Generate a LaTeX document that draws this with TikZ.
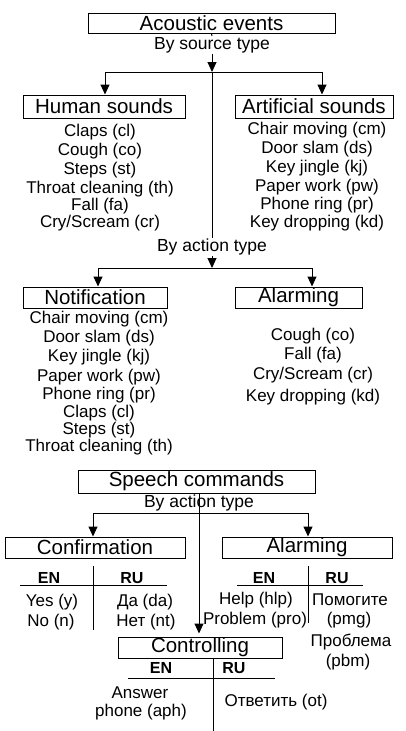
\documentclass[tikz,border=0pt]{standalone}
\usepackage{fontspec}
\setmainfont{Liberation Sans}
\usetikzlibrary{arrows.meta}

\tikzset{
  box/.style={draw, line width=1pt, inner sep=0pt, font=\fontsize{20.5}{24}\selectfont},
  lbl/.style={inner sep=1pt, font=\fontsize{17.5}{20}\selectfont},
  item/.style={inner sep=0pt, font=\fontsize{17}{20}\selectfont},
  head/.style={inner sep=0pt, font=\bfseries\fontsize{16}{19}\selectfont},
  arr/.style={-{Triangle[width=9pt,length=10pt]}, line width=1pt},
  rule/.style={line width=1pt},
}

\begin{document}
\begin{tikzpicture}[x=1pt,y=-1pt]
\useasboundingbox (0,0) rectangle (406,731);

\node[box, minimum width=247, minimum height=20] (acoustic) at (211.5,23) {Acoustic events};
\node[lbl] (bysource) at (212,45) {By source type};
\coordinate (split1) at (212,72);
\node[box, minimum width=162, minimum height=23] (hum) at (104,106.5) {Human sounds};
\node[box, minimum width=158, minimum height=23] (art) at (314,106.5) {Artificial sounds};

\draw[rule] (acoustic.south) -- (bysource.north);
\draw[arr] (bysource.south) -- (split1);
\draw[arr] (split1) -| ([xshift=1pt]hum.north);
\draw[arr] (split1) -| ([xshift=8pt]art.north);

\foreach \y/\t [count=\i] in {132/Claps (cl), 151/Cough (co), 170/Steps (st),
    189/Throat cleaning (th), 206/Fall (fa), 223/{Cry/Scream (cr)}}
  \node[item] (hs\i) at (100,\y) {\t};
\foreach \y/\t [count=\i] in {130/Chair moving (cm), 149/Door slam (ds), 168/Key jingle (kj),
    187/Paper work (pw), 205/Phone ring (pr), 223/Key dropping (kd)}
  \node[item] (as\i) at (317,\y) {\t};

\node[lbl] (byaction) at (212,247) {By action type};
\coordinate (split2) at (212,268);
\node[box, minimum width=144, minimum height=21] (notif) at (95,297.5) {Notification};
\node[box, minimum width=127, minimum height=21] (alarm) at (298.5,297.5) {Alarming};

\draw[rule] (split1) -- (byaction.north);
\draw[arr] (byaction.south) -- (split2);
\draw[arr] (split2) -| ([xshift=3pt]notif.north);
\draw[arr] (split2) -| ([xshift=13.5pt]alarm.north);

\foreach \y/\t [count=\i] in {319/Chair moving (cm), 338/Door slam (ds), 357/Key jingle (kj),
    377/Paper work (pw), 395/Phone ring (pr), 413/Claps (cl), 430/Steps (st),
    447/Throat cleaning (th)}
  \node[item] (nt\i) at (99,\y) {\t};
\foreach \y/\t [count=\i] in {336/Cough (co), 355/Fall (fa), 375/{Cry/Scream (cr)},
    397/Key dropping (kd)}
  \node[item] (al\i) at (313,\y) {\t};

\node[box, minimum width=237, minimum height=23] (speech) at (196.5,481.5) {Speech commands};
\node[lbl] (byaction2) at (199,503) {By action type};
\coordinate (split3) at (199,513);
\node[box, minimum width=180, minimum height=21] (conf) at (95,547.5) {Confirmation};
\node[box, minimum width=170, minimum height=21] (alarm2) at (307,547.5) {Alarming};
\node[box, minimum width=164, minimum height=21] (ctrl) at (200,647.5) {Controlling};

\draw[arr, shorten >=3pt] (speech.south -| split3) -- (ctrl.north -| split3);
\draw[arr] (split3) -| ([xshift=-2pt]conf.north);
\draw[arr] (split3) -| ([xshift=1pt]alarm2.north);

\node[head] (cen) at (49,578) {EN};
\node[head] (cru) at (132,578) {RU};
\draw[rule] (20,585) -- (167,585);
\draw[rule] (93,566) -- (93,630);
\node[item] (cy) at (52,602) {Yes (y)};
\node[item] (cn) at (51,622) {No (n)};
\node[item] (cda) at (145,602) {Да (da)};
\node[item] (cnt) at (146,622) {Нет (nt)};

\node[head] (aen) at (264,578) {EN};
\node[head] (aru) at (337,578) {RU};
\draw[rule] (237,585) -- (363,585);
\draw[rule] (308,566) -- (308,623);
\node[item] (ahlp) at (256,600) {Help (hlp)};
\node[item] (apro) at (255,620) {Problem (pro)};
\node[item] (apmg1) at (350,600) {Помогите};
\node[item] (apmg2) at (349,620) {(pmg)};
\node[item] (apbm1) at (351,642) {Проблема};
\node[item] (apbm2) at (348,662) {(pbm)};

\node[head] (ten) at (161,668) {EN};
\node[head] (tru) at (234,668) {RU};
\draw[rule] (128,678) -- (275,678);
\draw[rule] (213,658) -- (213,731);
\node[item] (taph1) at (140,693) {Answer};
\node[item] (taph2) at (141,712) {phone (aph)};
\node[item] (tot) at (276,702) {Ответить (ot)};
\end{tikzpicture}
\end{document}
